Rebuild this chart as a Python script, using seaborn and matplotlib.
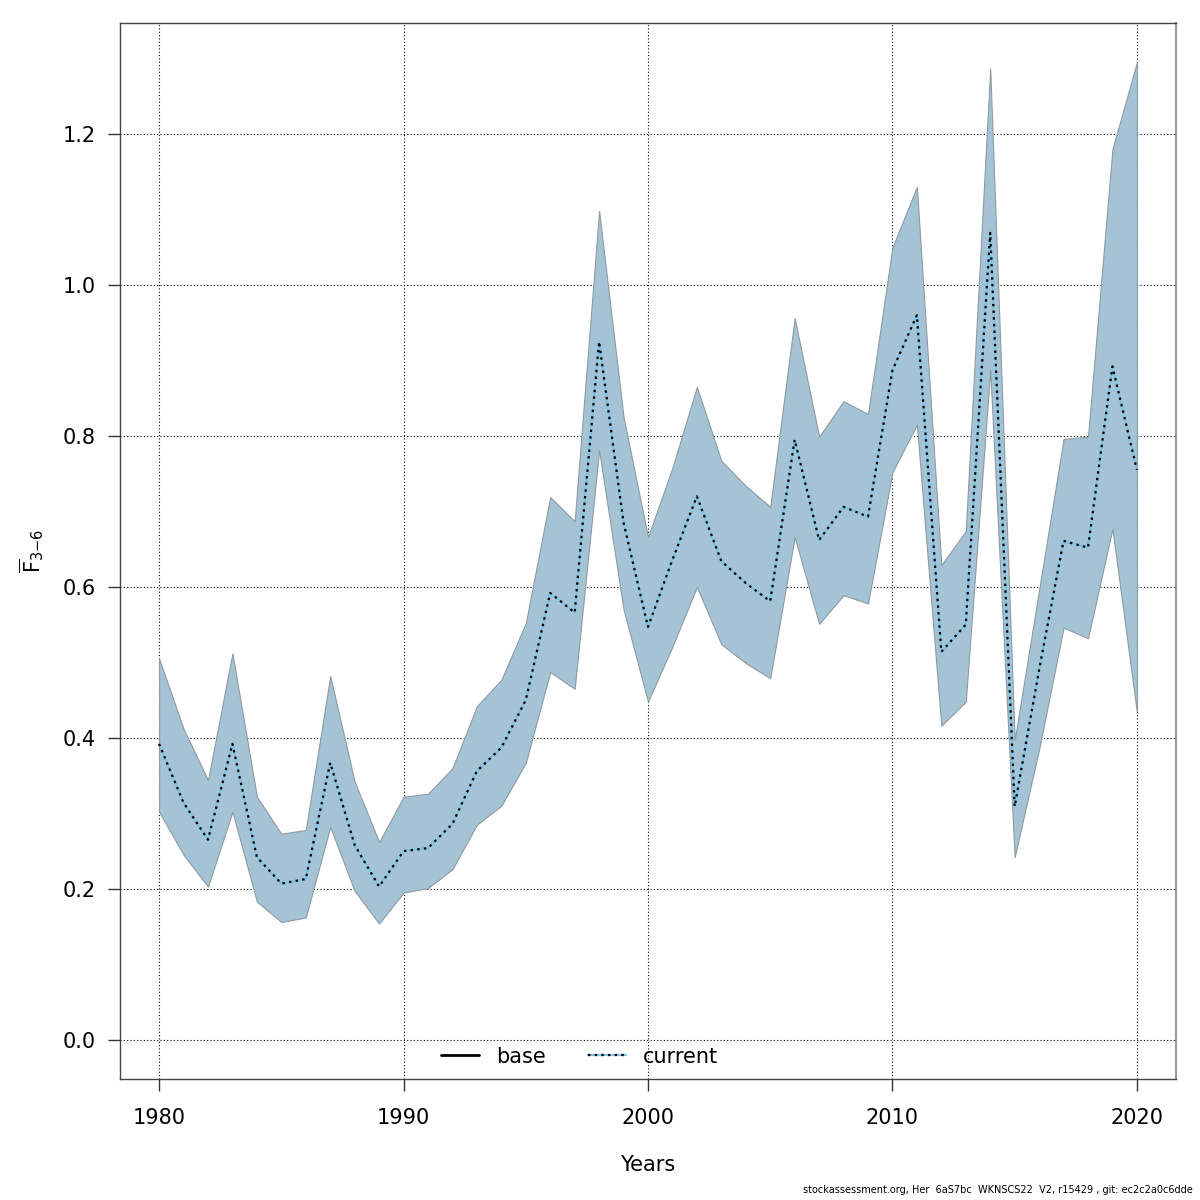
import numpy as np
import pandas as pd
import matplotlib
matplotlib.use("Agg")
import matplotlib.pyplot as plt
from matplotlib.lines import Line2D
import seaborn as sns

# F(3-6) estimates, 1980-2020
years = list(range(1980, 2021))
f_mean = [0.392, 0.314, 0.265, 0.392, 0.242, 0.207, 0.213, 0.367, 0.258, 0.203,
          0.250, 0.254, 0.286, 0.356, 0.387, 0.450, 0.592, 0.566, 0.925, 0.685,
          0.547, 0.636, 0.720, 0.634, 0.605, 0.581, 0.795, 0.662, 0.706, 0.693,
          0.887, 0.960, 0.514, 0.550, 1.069, 0.309, 0.490, 0.661, 0.652, 0.892,
          0.755]
f_upper = [0.505, 0.412, 0.344, 0.512, 0.322, 0.273, 0.278, 0.482, 0.342, 0.262,
           0.322, 0.326, 0.360, 0.442, 0.477, 0.552, 0.719, 0.687, 1.098, 0.825,
           0.666, 0.758, 0.865, 0.767, 0.734, 0.706, 0.956, 0.799, 0.846, 0.829,
           1.050, 1.130, 0.629, 0.674, 1.287, 0.397, 0.596, 0.796, 0.799, 1.180,
           1.295]
f_lower = [0.302, 0.245, 0.203, 0.302, 0.183, 0.156, 0.162, 0.282, 0.197, 0.154,
           0.195, 0.201, 0.226, 0.285, 0.310, 0.367, 0.487, 0.465, 0.781, 0.570,
           0.448, 0.521, 0.600, 0.524, 0.499, 0.479, 0.666, 0.551, 0.589, 0.578,
           0.752, 0.815, 0.416, 0.448, 0.887, 0.242, 0.385, 0.546, 0.532, 0.677,
           0.434]
x_ticks = [1980, 1990, 2000, 2010, 2020]
y_ticks = [0.0, 0.2, 0.4, 0.6, 0.8, 1.0, 1.2]

df = pd.DataFrame({"Year": years, "F": f_mean, "lo": f_lower, "hi": f_upper})

sns.set_theme(style="white")
plt.rcParams["font.family"] = ["DejaVu Sans"]
plt.rcParams["text.color"] = "black"
plt.rcParams["axes.labelcolor"] = "black"
plt.rcParams["xtick.color"] = "black"
plt.rcParams["ytick.color"] = "black"

fig = plt.figure(figsize=(12, 12), dpi=100)
ax = fig.add_axes([0.1, 0.1008, 0.88, 0.88])

# dotted grid at the tick positions, under the band
for xt in x_ticks:
    ax.axvline(xt, color="black", lw=0.8, ls=(0, (1, 2)), zorder=0)
for yt in y_ticks:
    ax.axhline(yt, color="black", lw=0.8, ls=(0, (1, 2)), zorder=0)

ax.fill_between(df["Year"], df["lo"], df["hi"], facecolor="#a4c3d5",
                edgecolor="#8f9aa3", lw=0.8, zorder=1)
sns.lineplot(data=df, x="Year", y="F", ax=ax, color="#7cc4e8", lw=1.6, zorder=2)
sns.lineplot(data=df, x="Year", y="F", ax=ax, color="black", lw=1.6,
             ls=(0, (1.1, 1.9)), zorder=3)

ax.set_xlim(1978.4, 2021.6)
ax.set_ylim(-0.052, 1.347)
ax.set_xticks(x_ticks)
ax.set_yticks(y_ticks)
ax.set_yticklabels([f"{v:.1f}" for v in y_ticks])
ax.tick_params(axis="both", direction="out", length=8.5, width=1, color="#333333",
               labelsize=15, left=True, bottom=True)
ax.tick_params(axis="y", pad=9)
ax.tick_params(axis="x", pad=12)
ax.set_xlabel("Years", fontsize=15, labelpad=20)
ax.set_ylabel(r"$\overline{\mathrm{F}}_{3{-}6}$", fontsize=15, labelpad=12)
for sp in ax.spines.values():
    sp.set_color("#444444")
    sp.set_linewidth(1)
ax.spines["right"].set_color("#999999")
ax.spines["right"].set_linewidth(1.5)
ax.grid(False)

handles = [
    Line2D([0], [0], color="black", lw=2),
    (Line2D([0], [0], color="#7cc4e8", lw=1.6),
     Line2D([0], [0], color="black", lw=1.6, ls=(0, (1.1, 1.9)))),
]
ax.legend(handles, ["base", "current"], loc="lower center",
          bbox_to_anchor=(0.435, -0.006), ncol=2, frameon=False, fontsize=15,
          handlelength=1.85, columnspacing=2.0, handletextpad=0.8)

fig.text(0.994, 0.004, "stockassessment.org, Her  6aS7bc  WKNSCS22  V2, r15429 , git: ec2c2a0c6dde",
         ha="right", va="bottom", fontsize=7)

fig.savefig("out.png", dpi=100)
